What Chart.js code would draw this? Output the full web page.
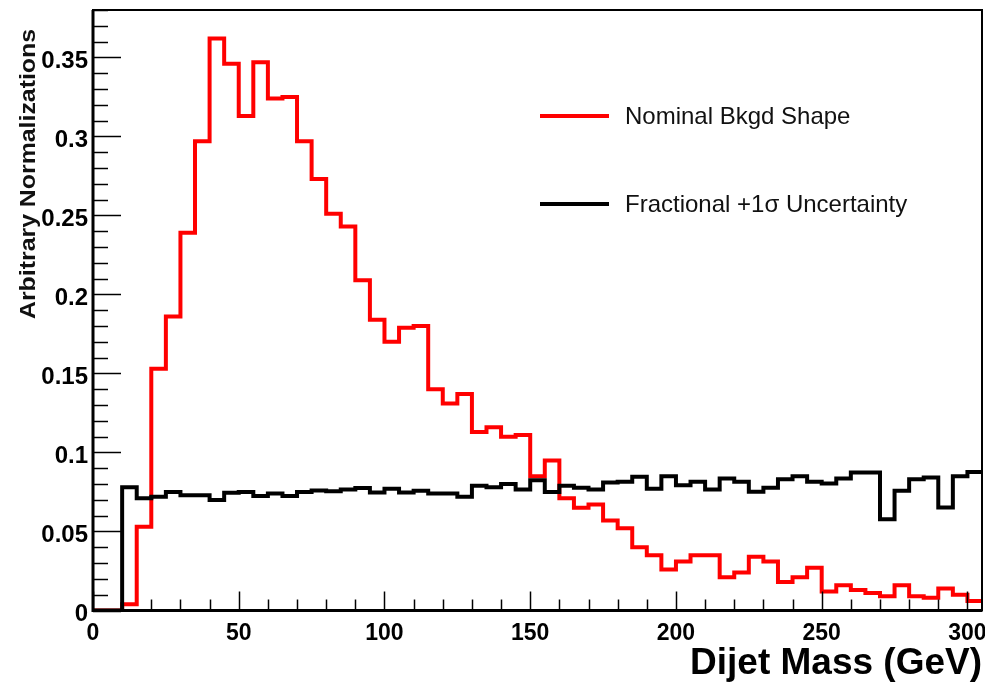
<!DOCTYPE html>
<html>
<head>
<meta charset="utf-8">
<title>Dijet Mass</title>
<script src="https://cdn.jsdelivr.net/npm/chart.js@4.4.0/dist/chart.umd.min.js"></script>
<style>
	html, body { margin: 0; padding: 0; background: #fff; }
	#wrap { width: 985px; height: 682px; }
</style>
</head>
<body>
<div id="wrap"><canvas id="dijet-chart" width="985" height="682"></canvas></div>
<script>
// bin edges in GeV (5 GeV bins, 0 - 305)
var binEdges = [0, 5, 10, 15, 20, 25, 30, 35, 40, 45, 50, 55, 60, 65, 70, 75, 80, 85, 90, 95,
	100, 105, 110, 115, 120, 125, 130, 135, 140, 145, 150, 155, 160, 165, 170, 175, 180, 185, 190, 195,
	200, 205, 210, 215, 220, 225, 230, 235, 240, 245, 250, 255, 260, 265, 270, 275, 280, 285, 290, 295,
	300, 305];

// red histogram
var nominalShape = [0, 0, 0.004, 0.053, 0.153, 0.186, 0.239, 0.297, 0.362, 0.346,
	0.313, 0.347, 0.324, 0.325, 0.297, 0.273, 0.251, 0.243, 0.209, 0.184,
	0.170, 0.179, 0.180, 0.140, 0.131, 0.137, 0.113, 0.116, 0.110, 0.111,
	0.085, 0.095, 0.071, 0.065, 0.067, 0.057, 0.052, 0.040, 0.035, 0.026,
	0.031, 0.035, 0.035, 0.021, 0.024, 0.034, 0.031, 0.018, 0.021, 0.027,
	0.012, 0.016, 0.013, 0.011, 0.009, 0.016, 0.009, 0.008, 0.014, 0.010,
	0.006];

// black histogram
var fractionalUnc = [0, 0, 0.078, 0.071, 0.072, 0.075, 0.073, 0.073, 0.070, 0.0745,
	0.075, 0.0725, 0.074, 0.0725, 0.075, 0.076, 0.0755, 0.0765, 0.0775, 0.0747,
	0.077, 0.0747, 0.0757, 0.074, 0.074, 0.072, 0.079, 0.078, 0.080, 0.0766,
	0.0825, 0.075, 0.079, 0.0776, 0.0766, 0.081, 0.0814, 0.0846, 0.077, 0.085,
	0.0793, 0.0814, 0.0766, 0.0835, 0.0814, 0.0751, 0.0776, 0.0831, 0.085, 0.0814,
	0.0804, 0.0835, 0.0873, 0.0873, 0.0578, 0.0757, 0.0831, 0.0842, 0.0652, 0.085,
	0.0877];

var legendLabels = ["Nominal Bkgd Shape", "Fractional +1\u03c3 Uncertainty"];
var yTitle = "Arbitrary Normalizations";
var xTitle = "Dijet Mass (GeV)";

// turn bin contents into step points (left edge of every bin + closing right edge)
function toSteps(vals) {
	var pts = [];
	for (var i = 0; i < vals.length; i++) {
		pts.push({ x: binEdges[i], y: vals[i] });
	}
	pts.push({ x: binEdges[vals.length], y: vals[vals.length - 1] });
	return pts;
}

function isMajor(v, step) {
	var r = v / step;
	return Math.abs(r - Math.round(r)) < 1e-6;
}

// ROOT style frame, inner ticks, legend and y title
var rootDecor = {
	id: "rootDecor",
	afterDraw: function (chart) {
		var ctx = chart.ctx;
		var area = chart.chartArea;
		var xs = chart.scales.x, ys = chart.scales.y;

		ctx.save();
		ctx.strokeStyle = "#000";
		ctx.lineWidth = 1.5;
		// y ticks, inside the frame
		ys.ticks.forEach(function (t) {
			var py = Math.round(ys.getPixelForValue(t.value)) + 0.5;
			var len = isMajor(t.value, 0.05) ? 28 : 15;
			ctx.beginPath();
			ctx.moveTo(area.left, py);
			ctx.lineTo(area.left + len, py);
			ctx.stroke();
		});
		// x ticks
		xs.ticks.forEach(function (t) {
			var px = Math.round(xs.getPixelForValue(t.value)) + 0.5;
			var len = isMajor(t.value, 50) ? 19 : 11;
			ctx.beginPath();
			ctx.moveTo(px, area.bottom);
			ctx.lineTo(px, area.bottom - len);
			ctx.stroke();
		});

		// frame
		ctx.lineWidth = 2;
		ctx.strokeRect(area.left, area.top, area.right - area.left, area.bottom - area.top);
		ctx.lineWidth = 3;
		ctx.beginPath();
		ctx.moveTo(area.left, area.top);
		ctx.lineTo(area.left, area.bottom);
		ctx.lineTo(area.right, area.bottom);
		ctx.stroke();

		// legend
		var legendColors = ["#ff0000", "#000000"];
		var legendY = [116, 204];
		ctx.font = "24px 'Liberation Sans', Arial, sans-serif";
		ctx.textBaseline = "middle";
		ctx.textAlign = "left";
		for (var i = 0; i < legendLabels.length; i++) {
			ctx.strokeStyle = legendColors[i];
			ctx.lineWidth = 4;
			ctx.beginPath();
			ctx.moveTo(540, legendY[i]);
			ctx.lineTo(609, legendY[i]);
			ctx.stroke();
			ctx.fillStyle = "#111";
			ctx.fillText(legendLabels[i], 625, legendY[i] + 1);
		}

		// y axis title (rotated, aligned to the top of the axis)
		ctx.font = "bold 22px 'Liberation Sans', Arial, sans-serif";
		ctx.fillStyle = "#111";
		ctx.textBaseline = "alphabetic";
		var w = ctx.measureText(yTitle).width;
		var stretch = 290 / w;
		ctx.translate(35, 319);
		ctx.rotate(-Math.PI / 2);
		ctx.scale(stretch, 1);
		ctx.fillText(yTitle, 0, 0);
		ctx.restore();
	}
};

var handleDijetChart = function () {
	var ctx = document.getElementById("dijet-chart").getContext("2d");

	var datany = {
		datasets: [
			{
				label: legendLabels[1],
				data: toSteps(fractionalUnc),
				borderColor: "#000000",
				borderWidth: 4,
				stepped: "before",
				pointRadius: 0,
				fill: false,
				order: 0,
			},
			{
				label: legendLabels[0],
				data: toSteps(nominalShape),
				borderColor: "#ff0000",
				borderWidth: 4,
				stepped: "before",
				pointRadius: 0,
				fill: false,
				order: 1,
			},
		],
	};

	var myChart = new Chart(ctx, {
		type: "line",
		data: datany,
		plugins: [rootDecor],
		options: {
			responsive: false,
			animation: false,
			devicePixelRatio: 1,
			layout: { padding: { top: 10, right: 3, left: 0, bottom: 0 } },
			plugins: {
				legend: { display: false },
				tooltip: { enabled: false },
			},
			scales: {
				x: {
					type: "linear",
					min: 0,
					max: 305,
					grid: { display: false, drawTicks: false },
					border: { display: false },
					ticks: {
						stepSize: 10,
						autoSkip: false,
						includeBounds: false,
						maxRotation: 0,
						padding: 9,
						color: "#000",
						font: { family: "'Liberation Sans', Arial, sans-serif", size: 23, weight: "bold" },
						callback: function (v) {
							return isMajor(v, 50) ? String(v) : "";
						},
					},
					title: {
						display: true,
						text: xTitle,
						align: "end",
						color: "#000",
						padding: { top: 0, bottom: 0 },
						font: { family: "'Liberation Sans', Arial, sans-serif", size: 37, weight: "bold", lineHeight: 1 },
					},
					afterFit: function (scale) {
						scale.height = 71.5;
						scale.paddingLeft = 0;
						scale.paddingRight = 0;
					},
				},
				y: {
					min: 0,
					max: 0.38,
					grid: { display: false, drawTicks: false },
					border: { display: false },
					ticks: {
						stepSize: 0.01,
						autoSkip: false,
						includeBounds: false,
						padding: 5,
						labelOffset: 4,
						color: "#000",
						font: { family: "'Liberation Sans', Arial, sans-serif", size: 24, weight: "bold" },
						callback: function (v) {
							return isMajor(v, 0.05) ? String(+v.toFixed(2)) : "";
						},
					},
					afterFit: function (scale) {
						scale.width = 93;
						scale.paddingTop = 0;
						scale.paddingBottom = 0;
					},
				},
			},
		},
	});

	return myChart;
};

handleDijetChart();
</script>
</body>
</html>
